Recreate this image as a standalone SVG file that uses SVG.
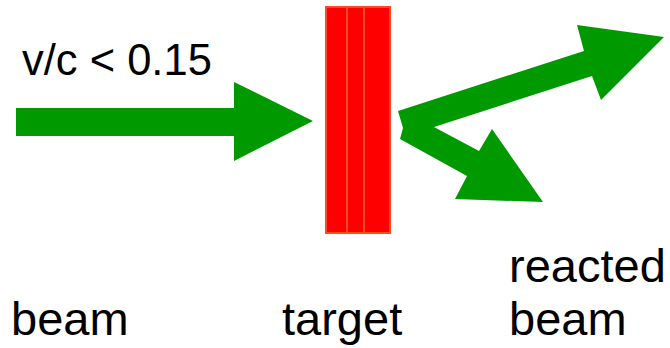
<svg xmlns="http://www.w3.org/2000/svg" width="670" height="348" viewBox="0 0 670 348">
<style>
.t{font-family:"Liberation Sans",Arial,sans-serif;fill:#000}
.arr{fill:#009900;stroke:none}
.tg{fill:#FF0000;stroke:#FF4A1A;stroke-width:2}
</style>
<rect width="670" height="348" fill="#fff"/>
<g id="target">
<rect class="tg" x="326" y="7" width="64" height="226"/>
<line x1="347" y1="7" x2="347" y2="233" stroke="#FF4A1A" stroke-width="2"/>
<line x1="364" y1="7" x2="364" y2="233" stroke="#FF4A1A" stroke-width="2"/>
</g>
<g id="connectors">
<polygon class="arr" points="16,108 234,108 234,82 313,121 234,161 234,136 16,136"/>
<polygon class="arr" points="398,111 584,51 577,25 664,37 601,100 592,76 434,127 479,151 492,129 543,202 455,199 467,176 400,139 403,128"/>
</g>
<g id="labels">
<text class="t" x="22" y="75" font-size="43.5">v/c &lt; 0.15</text>
<text class="t" x="11" y="335" font-size="47">beam</text>
<text class="t" x="282" y="335" font-size="47">target</text>
<text class="t" x="509" y="282" font-size="47">reacted</text>
<text class="t" x="509" y="335" font-size="47">beam</text>
</g>
</svg>
